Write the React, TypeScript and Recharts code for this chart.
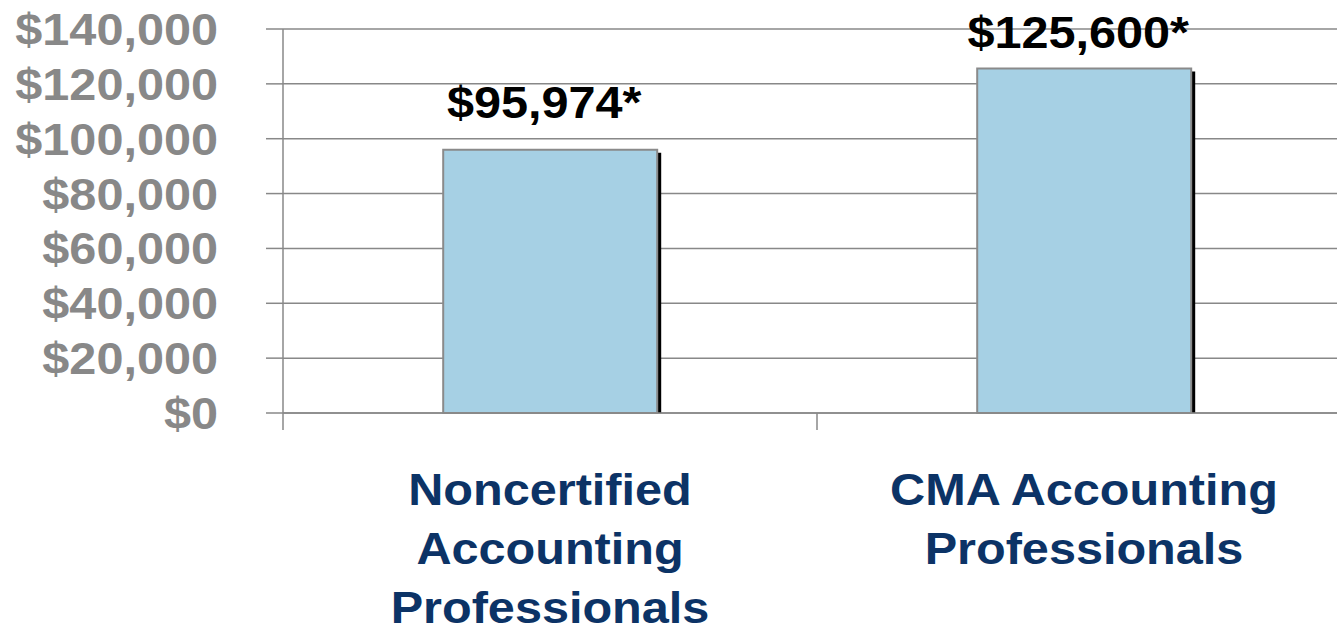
import { BarChart, Bar, XAxis, YAxis, CartesianGrid, LabelList } from 'recharts';

const categories = [
  ['Noncertified', 'Accounting', 'Professionals'],
  ['CMA Accounting', 'Professionals'],
];
const salaries = [95974, 125600];
const yTicks = [0, 20000, 40000, 60000, 80000, 100000, 120000, 140000];

const data = categories.map((lines, i) => ({
  name: lines.join(' '),
  lines,
  salary: salaries[i],
}));

const FONT = '"Liberation Sans", Arial, sans-serif';
const GRAY = '#888888';
const NAVY = '#0c3366';
const STRETCH = 1.08;

const money = (v: number) => `$${v.toLocaleString('en-US')}`;

const YTick = ({ x, y, payload }: any) => (
  <text
    transform={`translate(${x},${y + 16}) scale(${STRETCH},1)`}
    textAnchor='end'
    fontFamily={FONT}
    fontWeight='bold'
    fontSize={45}
    fill={GRAY}
  >
    {money(payload.value)}
  </text>
);

const XTick = ({ x, y, payload, index }: any) => {
  const edge = payload.coordinate - (payload.offset ?? 0);
  const lines = data[index]?.lines ?? [];
  return (
    <g>
      <line x1={edge} x2={edge} y1={y} y2={y + 17} stroke={GRAY} strokeWidth={1.5} />
      {lines.map((line: string, i: number) => (
        <text
          key={line}
          transform={`translate(${x},${y + 92 + i * 59}) scale(${STRETCH},1)`}
          textAnchor='middle'
          fontFamily={FONT}
          fontWeight='bold'
          fontSize={45}
          fill={NAVY}
        >
          {line}
        </text>
      ))}
    </g>
  );
};

const ShadowBar = ({ x, y, width, height }: any) => (
  <g>
    <rect x={x + width} y={y + 3} width={4} height={height - 3} fill='#000' />
    <rect x={x} y={y} width={width} height={height} fill='#a6d0e4' stroke='#8a8a8a' strokeWidth={2} />
  </g>
);

const ValueLabel = ({ x, y, width, value }: any) => {
  const base = Math.max(y - 32, 48);
  return (
    <text
      transform={`translate(${x + width / 2 - 6},${base}) scale(${STRETCH},1)`}
      textAnchor='middle'
      fontFamily={FONT}
      fontWeight='bold'
      fontSize={45}
      fill='#000'
    >
      {money(value)}*
    </text>
  );
};

export default function App() {
  return (
    <div
      style={{
        position: 'fixed',
        left: 0,
        top: 0,
        width: 1337,
        height: 631,
        overflow: 'hidden',
        background: '#fff',
      }}
    >
      <BarChart
        width={1360}
        height={631}
        data={data}
        margin={{ top: 29, right: 9, bottom: 0, left: 0 }}
        barCategoryGap='30%'
      >
        <CartesianGrid vertical={false} stroke={GRAY} strokeWidth={1.5} />
        <XAxis
          dataKey='name'
          interval={0}
          height={218}
          axisLine={{ stroke: GRAY, strokeWidth: 1.5 }}
          tickLine={false}
          tickSize={0}
          tickMargin={0}
          tick={<XTick />}
        />
        <YAxis
          width={283}
          domain={[0, 140000]}
          ticks={yTicks}
          interval={0}
          axisLine={{ stroke: GRAY, strokeWidth: 1.5 }}
          tickLine={{ stroke: GRAY, strokeWidth: 1.5 }}
          tickSize={17}
          tickMargin={48}
          tick={<YTick />}
        />
        <Bar dataKey='salary' shape={<ShadowBar />} isAnimationActive={false}>
          <LabelList dataKey='salary' content={<ValueLabel />} />
        </Bar>
      </BarChart>
    </div>
  );
}
